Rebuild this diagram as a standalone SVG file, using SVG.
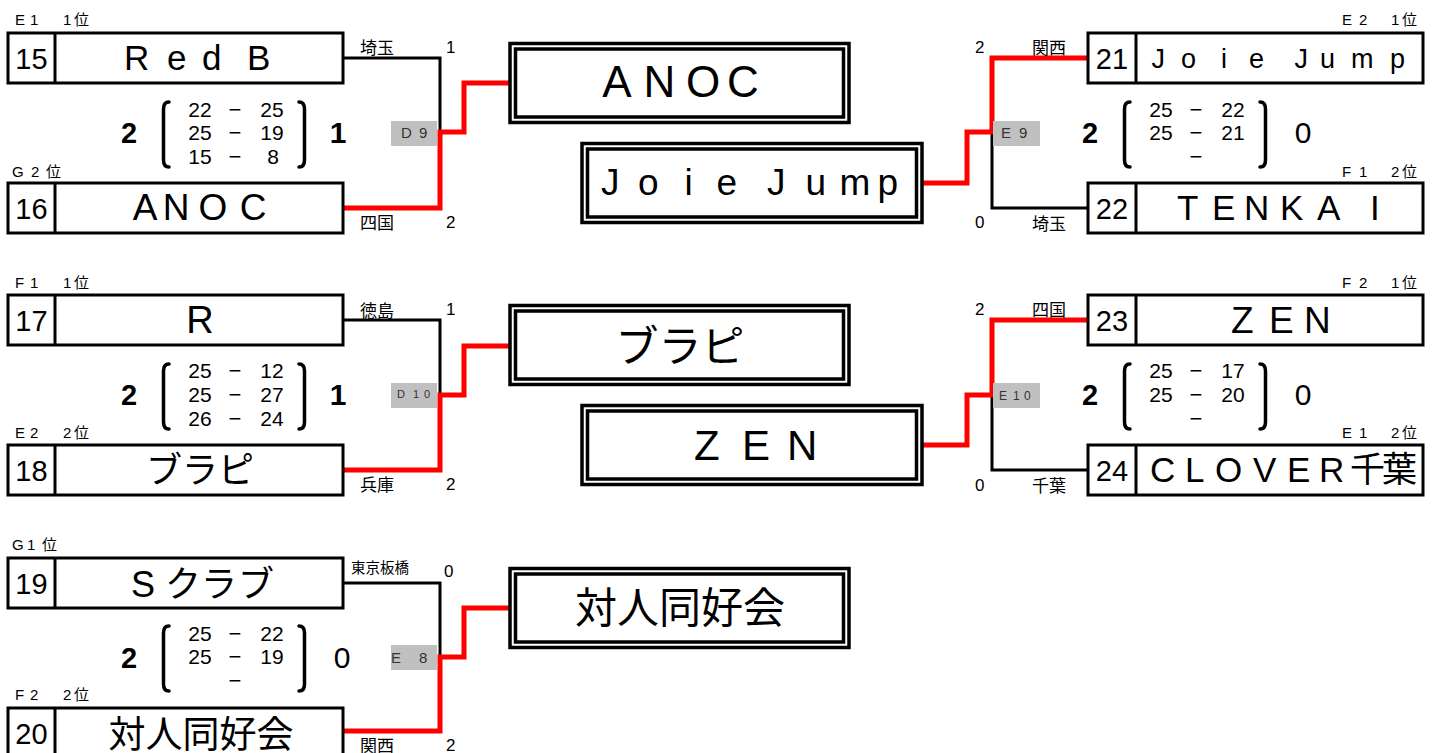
<svg xmlns="http://www.w3.org/2000/svg" width="1436" height="753" viewBox="0 0 1436 753">
<style>
text{font-family:'Liberation Sans','Noto Sans CJK JP',sans-serif;fill:#000}
.box{fill:#fff;stroke:#000;stroke-width:3}
.dv{stroke:#000;stroke-width:3}
.wb{fill:#fff;stroke:#000;stroke-width:3.5}
.wbi{fill:none;stroke:#000;stroke-width:3.5}
.bl{fill:none;stroke:#000;stroke-width:3}
.rd{fill:none;stroke:#f00;stroke-width:5}
.tag{fill:#c0c0c0}
.tt{fill:#333}
.sm{font-size:15px}
.lb{font-size:17px}
.num{font-size:29px;text-anchor:middle}
.sc{font-size:21px;text-anchor:middle}
.ds{font-size:22px}
.big{font-size:29px;text-anchor:middle;font-weight:bold}
.res{font-size:30px;text-anchor:middle}
.bk{fill:none;stroke:#000;stroke-width:3.5;stroke-linecap:round}
.mid{text-anchor:middle}
</style>
<rect x="0" y="0" width="1436" height="753" fill="#fff"/>

<g id="connectors">
  <path class="bl" d="M343,58 H440 V132"/>
  <path class="rd" d="M343,208 H440 V132 H464 V83 H510"/>
  <path class="bl" d="M343,320 H440 V395"/>
  <path class="rd" d="M343,470 H440 V395 H464 V346 H510"/>
  <path class="bl" d="M343,583 H440 V657"/>
  <path class="rd" d="M343,731 H440 V657 H464 V608 H510"/>
  <path class="bl" d="M992,132 V208 H1088"/>
  <path class="rd" d="M923,183 H967 V132 H992 V58 H1088"/>
  <path class="bl" d="M992,395 V470 H1088"/>
  <path class="rd" d="M923,445 H967 V395 H992 V320 H1088"/>
</g>

<!-- Left row 1 -->
<g id="team15">
  <text class="sm" x="15 23 30" y="25">E 1</text>
  <text class="sm" x="63 74" y="25">1位</text>
  <rect class="box" x="8" y="33" width="335" height="50"/>
  <line class="dv" x1="55" y1="33" x2="55" y2="83"/>
  <text class="num" x="31.5" y="68.5">15</text>
  <text font-size="35" x="124 167 202 230 247" y="70">Red B</text>
  <text class="lb" x="360" y="54">埼玉</text>
  <text class="lb" x="446" y="53">1</text>
</g>
<g id="team16">
  <text class="sm" x="12 22 31 46" y="177">G 2位</text>
  <rect class="box" x="8" y="183" width="335" height="50"/>
  <line class="dv" x1="55" y1="183" x2="55" y2="233"/>
  <text class="num" x="31.5" y="218.5">16</text>
  <text class="mid" font-size="37" x="145 176 213 253" y="220">ANOC</text>
  <text class="lb" x="360" y="229">四国</text>
  <text class="lb" x="446" y="228">2</text>
</g>
<g id="score-d9">
  <text class="big" x="129" y="143">2</text>
  <path class="bk" d="M169,102 Q163.5,102 163.5,109 V160 Q163.5,167 169,167"/>
  <path class="bk" d="M299,102 Q304.5,102 304.5,109 V160 Q304.5,167 299,167"/>
  <text class="sc"><tspan x="200" y="117">22</tspan><tspan class="ds" x="235" y="117">−</tspan><tspan x="272" y="117">25</tspan><tspan x="200" y="140">25</tspan><tspan class="ds" x="235" y="140">−</tspan><tspan x="272" y="140">19</tspan><tspan x="200" y="164">15</tspan><tspan class="ds" x="235" y="164">−</tspan><tspan x="273" y="164">8</tspan></text>
  <text class="res" font-weight="bold" x="338" y="143">1</text>
</g>
<g id="tag-d9">
  <rect class="tag" x="391" y="121" width="46" height="25"/>
  <text class="tt" font-size="15" x="401 411 419" y="138">D 9</text>
</g>

<!-- Left row 2 -->
<g id="team17">
  <text class="sm" x="15 23 30" y="288">F 1</text>
  <text class="sm" x="63 74" y="288">1位</text>
  <rect class="box" x="8" y="295" width="335" height="50"/>
  <line class="dv" x1="55" y1="295" x2="55" y2="345"/>
  <text class="num" x="31.5" y="331">17</text>
  <text font-size="38" x="200" y="333" text-anchor="middle">R</text>
  <text class="lb" x="360" y="317">徳島</text>
  <text class="lb" x="446" y="315">1</text>
</g>
<g id="team18">
  <text class="sm" x="15 23 30" y="438">E 2</text>
  <text class="sm" x="63 74" y="438">2位</text>
  <rect class="box" x="8" y="445" width="335" height="50"/>
  <line class="dv" x1="55" y1="445" x2="55" y2="495"/>
  <text class="num" x="31.5" y="480.5">18</text>
  <text font-size="36" x="200" y="483" text-anchor="middle">ブラピ</text>
  <text class="lb" x="360" y="491">兵庫</text>
  <text class="lb" x="446" y="490">2</text>
</g>
<g id="score-d10">
  <text class="big" x="129" y="405">2</text>
  <path class="bk" d="M169,364 Q163.5,364 163.5,371 V422 Q163.5,429 169,429"/>
  <path class="bk" d="M299,364 Q304.5,364 304.5,371 V422 Q304.5,429 299,429"/>
  <text class="sc"><tspan x="200" y="378">25</tspan><tspan class="ds" x="235" y="378">−</tspan><tspan x="272" y="378">12</tspan><tspan x="200" y="402">25</tspan><tspan class="ds" x="235" y="402">−</tspan><tspan x="272" y="402">27</tspan><tspan x="200" y="426">26</tspan><tspan class="ds" x="235" y="426">−</tspan><tspan x="272" y="426">24</tspan></text>
  <text class="res" font-weight="bold" x="338" y="405">1</text>
</g>
<g id="tag-d10">
  <rect class="tag" x="391" y="383" width="46" height="25"/>
  <text class="tt" font-size="11" x="397 405 413 420 424" y="398">D 1 0</text>
</g>

<!-- Left row 3 -->
<g id="team19">
  <text class="sm" x="12 20 27 42" y="550">G 1位</text>
  <rect class="box" x="8" y="558" width="335" height="50"/>
  <line class="dv" x1="55" y1="558" x2="55" y2="608"/>
  <text class="num" x="31.5" y="593.5">19</text>
  <text font-size="36" x="131 165 201 238" y="597">Sクラブ</text>
  <text font-size="14.5" x="351" y="573">東京板橋</text>
  <text class="lb" x="444" y="577">0</text>
</g>
<g id="team20">
  <text class="sm" x="15 23 30" y="700">F 2</text>
  <text class="sm" x="63 74" y="700">2位</text>
  <rect class="box" x="8" y="708" width="335" height="50"/>
  <line class="dv" x1="55" y1="708" x2="55" y2="758"/>
  <text class="num" x="31.5" y="743.5">20</text>
  <text font-size="37" x="201" y="748" text-anchor="middle">対人同好会</text>
  <text class="lb" x="360" y="752">関西</text>
  <text class="lb" x="446" y="751">2</text>
</g>
<g id="score-e8">
  <text class="big" x="129" y="668">2</text>
  <path class="bk" d="M169,626 Q163.5,626 163.5,633 V684 Q163.5,691 169,691"/>
  <path class="bk" d="M299,626 Q304.5,626 304.5,633 V684 Q304.5,691 299,691"/>
  <text class="sc"><tspan x="200" y="641">25</tspan><tspan class="ds" x="235" y="641">−</tspan><tspan x="272" y="641">22</tspan><tspan x="200" y="664">25</tspan><tspan class="ds" x="235" y="664">−</tspan><tspan x="272" y="664">19</tspan><tspan class="ds" x="235" y="688">−</tspan></text>
  <text class="res" x="342" y="668">0</text>
</g>
<g id="tag-e8">
  <rect class="tag" x="391" y="645" width="46" height="25"/>
  <text class="tt" font-size="15" x="391 401 419" y="663">E 8</text>
</g>

<!-- Winner boxes -->
<g id="win-d9">
  <rect class="wb" x="510" y="43.5" width="339" height="79"/>
  <rect class="wbi" x="515.5" y="49" width="328" height="68"/>
  <text class="mid" font-size="44" x="617 659.5 703 743" y="97">ANOC</text>
</g>
<g id="win-e9">
  <rect class="wb" x="582" y="143.5" width="340" height="79"/>
  <rect class="wbi" x="587.5" y="149" width="329" height="68"/>
  <text font-size="37" x="601 638 684.5 716.5 745 767 805.5 839.5 877.5" y="195">Joie Jump</text>
</g>
<g id="win-d10">
  <rect class="wb" x="510" y="305.5" width="339" height="79"/>
  <rect class="wbi" x="515.5" y="311" width="328" height="68"/>
  <text font-size="43" x="680" y="362" text-anchor="middle">ブラピ</text>
</g>
<g id="win-e10">
  <rect class="wb" x="582" y="405.5" width="340" height="79"/>
  <rect class="wbi" x="587.5" y="411" width="329" height="68"/>
  <text font-size="42" x="694 742 787" y="460">ZEN</text>
</g>
<g id="win-e8">
  <rect class="wb" x="510" y="568.5" width="339" height="79"/>
  <rect class="wbi" x="515.5" y="574" width="328" height="68"/>
  <text font-size="42" x="680" y="623" text-anchor="middle">対人同好会</text>
</g>

<!-- Right row 1 -->
<g id="team21">
  <text class="sm" x="1342 1351 1359" y="25">E 2</text>
  <text class="sm" x="1391 1402" y="25">1位</text>
  <rect class="box" x="1088" y="33" width="335" height="50"/>
  <line class="dv" x1="1136" y1="33" x2="1136" y2="83"/>
  <text class="num" x="1112" y="68.5">21</text>
  <text font-size="27" x="1151.5 1181 1221 1249 1270 1294.5 1320 1351 1390" y="68">Joie Jump</text>
  <text class="lb" x="975" y="53">2</text>
  <text class="lb" x="1032" y="54">関西</text>
</g>
<g id="team22">
  <text class="sm" x="1342 1351 1359" y="177">F 1</text>
  <text class="sm" x="1391 1402" y="177">2位</text>
  <rect class="box" x="1088" y="183" width="335" height="50"/>
  <line class="dv" x1="1136" y1="183" x2="1136" y2="233"/>
  <text class="num" x="1112" y="218.5">22</text>
  <text font-size="35" x="1177 1212 1244 1280 1317 1370" y="220">TENKAI</text>
  <text class="lb" x="975" y="228">0</text>
  <text class="lb" x="1032" y="230">埼玉</text>
</g>
<g id="score-e9">
  <text class="big" x="1090" y="143">2</text>
  <path class="bk" d="M1130,102 Q1124.5,102 1124.5,109 V160 Q1124.5,167 1130,167"/>
  <path class="bk" d="M1260,102 Q1265.5,102 1265.5,109 V160 Q1265.5,167 1260,167"/>
  <text class="sc"><tspan x="1161" y="117">25</tspan><tspan class="ds" x="1196" y="117">−</tspan><tspan x="1233" y="117">22</tspan><tspan x="1161" y="140">25</tspan><tspan class="ds" x="1196" y="140">−</tspan><tspan x="1233" y="140">21</tspan><tspan class="ds" x="1196" y="164">−</tspan></text>
  <text class="res" x="1303" y="143">0</text>
</g>
<g id="tag-e9">
  <rect class="tag" x="993" y="121" width="47" height="25"/>
  <text class="tt" font-size="15" x="1001 1011 1019" y="138">E 9</text>
</g>

<!-- Right row 2 -->
<g id="team23">
  <text class="sm" x="1342 1351 1359" y="288">F 2</text>
  <text class="sm" x="1391 1402" y="288">1位</text>
  <rect class="box" x="1088" y="295" width="335" height="50"/>
  <line class="dv" x1="1136" y1="295" x2="1136" y2="345"/>
  <text class="num" x="1112" y="331">23</text>
  <text font-size="37" x="1231 1269 1304" y="333">ZEN</text>
  <text class="lb" x="975" y="315">2</text>
  <text class="lb" x="1032" y="316">四国</text>
</g>
<g id="team24">
  <text class="sm" x="1342 1351 1359" y="438">E 1</text>
  <text class="sm" x="1391 1402" y="438">2位</text>
  <rect class="box" x="1088" y="445" width="335" height="50"/>
  <line class="dv" x1="1136" y1="445" x2="1136" y2="495"/>
  <text class="num" x="1112" y="480.5">24</text>
  <text font-size="35" x="1150 1185 1215 1253 1287 1319 1350 1382" y="482">CLOVER千葉</text>
  <text class="lb" x="975" y="491">0</text>
  <text class="lb" x="1032" y="492">千葉</text>
</g>
<g id="score-e10">
  <text class="big" x="1090" y="405">2</text>
  <path class="bk" d="M1130,364 Q1124.5,364 1124.5,371 V422 Q1124.5,429 1130,429"/>
  <path class="bk" d="M1260,364 Q1265.5,364 1265.5,371 V422 Q1265.5,429 1260,429"/>
  <text class="sc"><tspan x="1161" y="378">25</tspan><tspan class="ds" x="1196" y="378">−</tspan><tspan x="1233" y="378">17</tspan><tspan x="1161" y="402">25</tspan><tspan class="ds" x="1196" y="402">−</tspan><tspan x="1233" y="402">20</tspan><tspan class="ds" x="1196" y="426">−</tspan></text>
  <text class="res" x="1303" y="405">0</text>
</g>
<g id="tag-e10">
  <rect class="tag" x="993" y="383" width="47" height="25"/>
  <text class="tt" font-size="12" x="999 1007 1013 1020 1024" y="400">E 1 0</text>
</g>
</svg>
